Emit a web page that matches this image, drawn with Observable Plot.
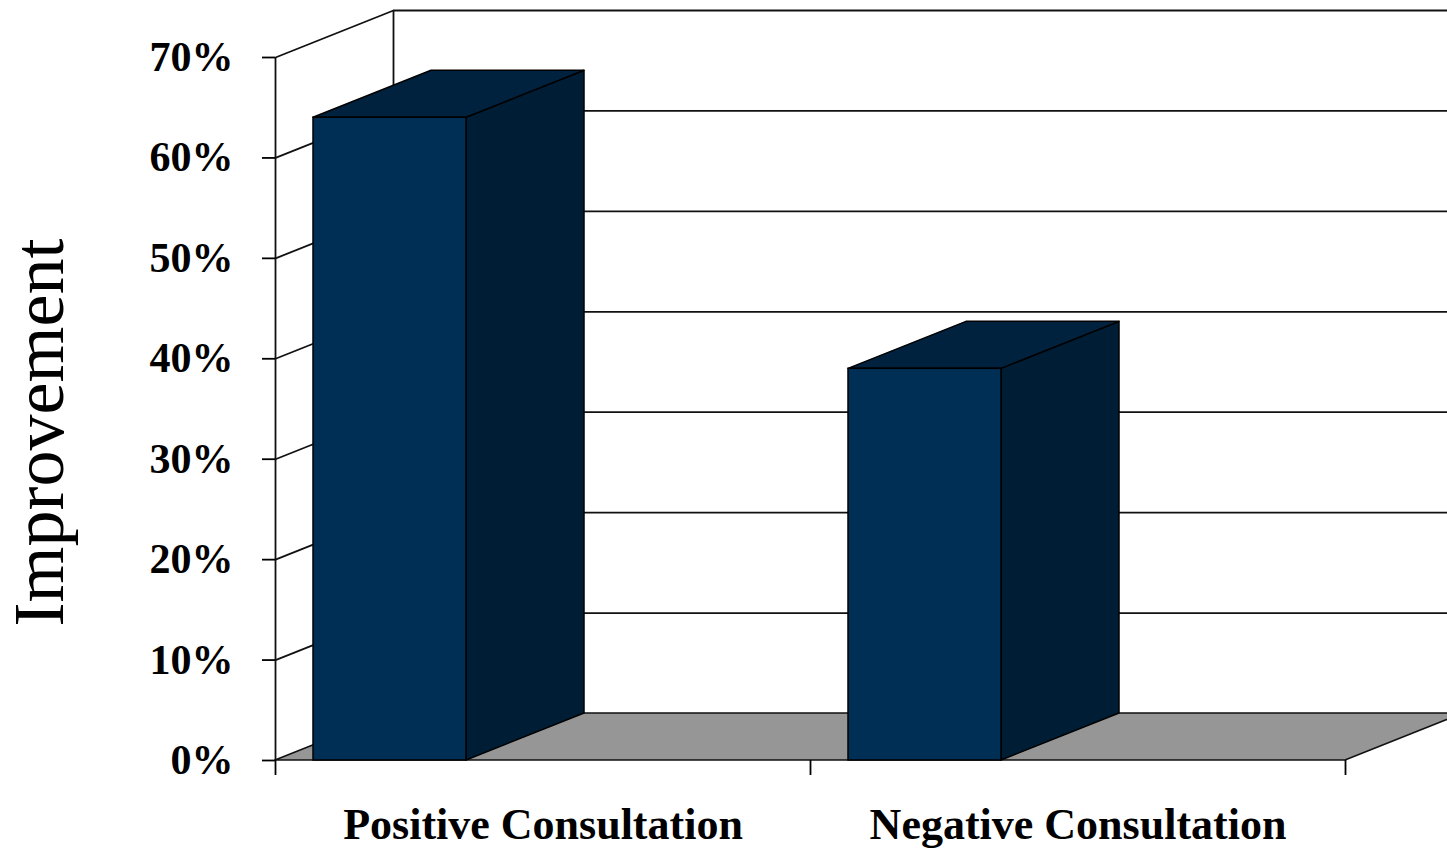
<!DOCTYPE html>
<html>
<head>
<meta charset="utf-8">
<script src="https://cdn.jsdelivr.net/npm/d3@7"></script>
<script src="https://cdn.jsdelivr.net/npm/@observablehq/plot@0.6"></script>
<style>
  html, body { margin: 0; padding: 0; background: #fff; overflow: hidden; }
  #chart svg { overflow: hidden; display: block; }
</style>
</head>
<body>
<div id="chart"></div>
<script>
// Chart data
const categories = ["Positive Consultation", "Negative Consultation"];
const improvement = [0.64, 0.39];
const yTicks = [0, 0.1, 0.2, 0.3, 0.4, 0.5, 0.6, 0.7];
const yTitle = "Improvement";

// Layout of the pseudo-3D box (in pixels)
const W = 1447, H = 849;
const mL = 275, mR = 102, mT = 57, mB = 89;
const depthPx = [118, -47];          // back-wall offset from the front plane
const barOffsetPx = 38, barWidthPx = 153;

const nCat = categories.length;
const xPerPx = nCat / (W - mL - mR);
const yPerPx = 0.7 / (H - mT - mB);
const DX = depthPx[0] * xPerPx;
const DY = -depthPx[1] * yPerPx;
const barOff = barOffsetPx * xPerPx;
const barW = barWidthPx * xPerPx;

// Colours
const frontFill = "#002F56";
const topFill = "#00223F";
const sideFill = "#001D36";
const floorFill = "#969696";
const lineColor = "#111";

// Bars (front plane rectangles)
const bars = categories.map((c, i) => ({
  cat: c,
  x1: i + barOff,
  x2: i + barOff + barW,
  v: improvement[i]
}));

// Top faces: horizontal edges, slanted sides
const tops = bars.flatMap(b => [
  {cat: b.cat, y: b.v, x1: b.x1, x2: b.x2},
  {cat: b.cat, y: b.v + DY, x1: b.x1 + DX, x2: b.x2 + DX}
]);

// Side faces: vertical edges, slanted top and bottom
const sides = bars.flatMap(b => [
  {cat: b.cat, x: b.x2, y1: 0, y2: b.v},
  {cat: b.cat, x: b.x2 + DX, y1: DY, y2: b.v + DY}
]);

// Floor
const floor = [
  {y: 0, x1: 0, x2: nCat},
  {y: DY, x1: DX, x2: nCat + DX}
];

const gridTicks = yTicks.filter(d => d > 0);

const chart = Plot.plot({
  width: W,
  height: H,
  marginLeft: mL,
  marginRight: mR,
  marginTop: mT,
  marginBottom: mB,
  x: {domain: [0, nCat], label: null},
  y: {domain: [0, 0.7], label: null},
  style: {fontFamily: "'Liberation Serif', 'Times New Roman', serif", background: "#fff", color: "#000"},
  marks: [
    // floor
    Plot.areaX(floor, {y: "y", x1: "x1", x2: "x2", fill: floorFill, stroke: lineColor, strokeWidth: 1.5}),
    // left wall gridlines
    Plot.link(gridTicks, {x1: 0, y1: d => d, x2: DX, y2: d => d + DY, stroke: lineColor, strokeWidth: 1.8}),
    // back wall gridlines
    Plot.ruleY(gridTicks, {y: d => d + DY, x1: DX, x2: nCat + 2 * DX, stroke: lineColor, strokeWidth: 1.8}),
    // back wall left edge
    Plot.ruleX([DX], {y1: DY, y2: 0.7 + DY, stroke: lineColor, strokeWidth: 1.8}),
    // front vertical axis line
    Plot.ruleX([0], {y1: 0, y2: 0.7, stroke: lineColor, strokeWidth: 1.8}),
    // y axis ticks and labels
    Plot.axisY({
      ticks: yTicks,
      tickSize: 13,
      tickPadding: 29,
      tickFormat: d3.format(".0%"),
      fontSize: 42,
      fontWeight: "bold",
      strokeWidth: 1.8,
      label: null
    }),
    // x axis category separators
    Plot.axisX({ticks: d3.range(nCat + 1), tickSize: 15, tickFormat: () => "", strokeWidth: 1.8, label: null}),
    // x axis category labels
    Plot.axisX({
      ticks: categories.map((c, i) => i + 0.5),
      tickSize: 0,
      tickPadding: 47,
      tickFormat: d => categories[Math.floor(d)],
      fontSize: 44,
      fontWeight: "bold",
      label: null
    }),
    // bars
    Plot.areaY(sides, {x: "x", y1: "y1", y2: "y2", z: "cat", fill: sideFill, stroke: "#000", strokeWidth: 1.5}),
    Plot.areaX(tops, {y: "y", x1: "x1", x2: "x2", z: "cat", fill: topFill, stroke: "#000", strokeWidth: 1.5}),
    Plot.rect(bars, {x1: "x1", x2: "x2", y1: 0, y2: "v", fill: frontFill, stroke: "#000", strokeWidth: 1.5}),
    // y axis title
    Plot.text([yTitle], {
      frameAnchor: "left",
      textAnchor: "middle",
      rotate: -90,
      dx: -236,
      dy: 23.5,
      fontSize: 72,
      fill: "#000"
    })
  ]
});

document.getElementById("chart").appendChild(chart);
</script>
</body>
</html>
